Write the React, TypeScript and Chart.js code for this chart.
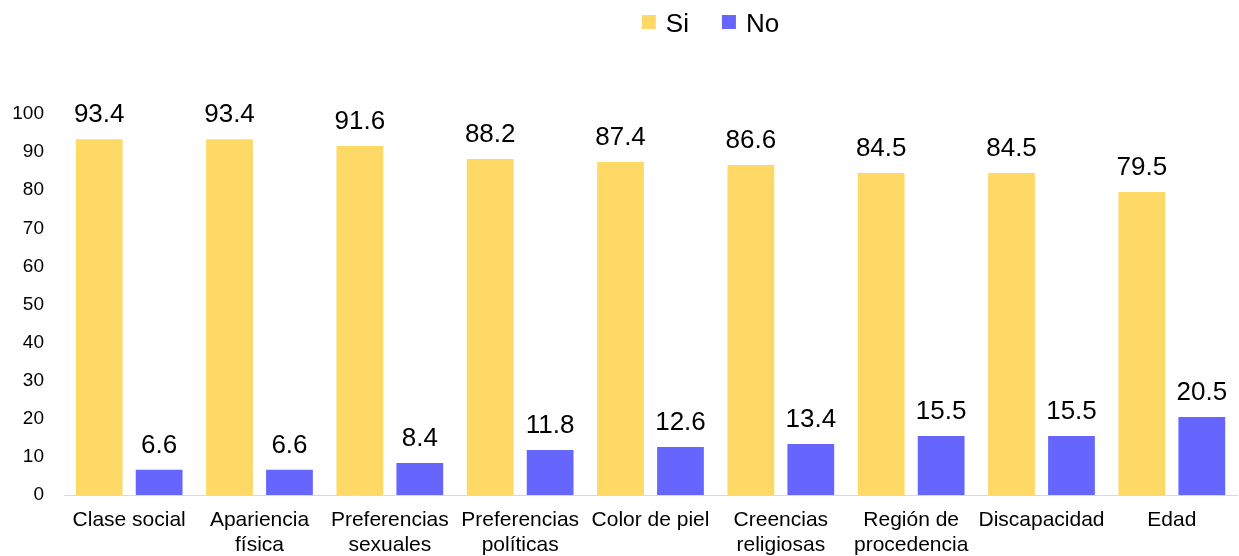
import { useEffect, useRef } from "react";
import { Chart, registerables } from "chart.js";

Chart.register(...registerables);

const FONT = "'Liberation Sans', Arial, Helvetica, sans-serif";

const categories: (string | string[])[] = [
  "Clase social",
  ["Apariencia", "física"],
  ["Preferencias", "sexuales"],
  ["Preferencias", "políticas"],
  "Color de piel",
  ["Creencias", "religiosas"],
  ["Región de", "procedencia"],
  "Discapacidad",
  "Edad",
];

const siValues = [93.4, 93.4, 91.6, 88.2, 87.4, 86.6, 84.5, 84.5, 79.5];
const noValues = [6.6, 6.6, 8.4, 11.8, 12.6, 13.4, 15.5, 15.5, 20.5];

const seriesNames = ["Si", "No"];
const seriesColors = ["#FFD966", "#6666FF"];

const yMin = 0;
const yMax = 100;
const yStep = 10;

// Writes each bar's value just above it.
const valueLabels = {
  id: "valueLabels",
  afterDatasetsDraw(chart: Chart) {
    const ctx = chart.ctx;
    ctx.save();
    ctx.font = `26px ${FONT}`;
    ctx.fillStyle = "#000000";
    ctx.textAlign = "center";
    ctx.textBaseline = "alphabetic";
    chart.data.datasets.forEach((ds, di) => {
      const meta = chart.getDatasetMeta(di);
      meta.data.forEach((el: any, i: number) => {
        const v = ds.data[i] as number;
        ctx.fillText(v.toFixed(1), el.x, el.y - 17);
      });
    });
    ctx.restore();
  },
};

// Legend row across the top: square swatch followed by series name.
const topLegend = {
  id: "topLegend",
  afterDraw(chart: Chart) {
    const ctx = chart.ctx;
    ctx.save();
    ctx.font = `26px ${FONT}`;
    ctx.textBaseline = "alphabetic";
    ctx.textAlign = "left";
    const box = 14;
    const boxGap = 10;
    const itemGap = 33;
    const widths = chart.data.datasets.map(
      (ds) => box + boxGap + ctx.measureText(String(ds.label)).width
    );
    const total = widths.reduce((a, b) => a + b, 0) + itemGap * (widths.length - 1);
    const center = (chart.chartArea.left + chart.chartArea.right) / 2 + 60;
    let x = center - total / 2;
    chart.data.datasets.forEach((ds, di) => {
      ctx.fillStyle = ds.backgroundColor as string;
      ctx.fillRect(x, 15, box, box);
      ctx.fillStyle = "#000000";
      ctx.fillText(String(ds.label), x + box + boxGap, 32);
      x += widths[di] + itemGap;
    });
    ctx.restore();
  },
};

export default function App() {
  const canvasRef = useRef<HTMLCanvasElement | null>(null);

  useEffect(() => {
    document.body.style.margin = "0";
    const canvas = canvasRef.current;
    if (!canvas) return;

    const chart = new Chart(canvas, {
      type: "bar",
      data: {
        labels: categories,
        datasets: [
          {
            label: seriesNames[0],
            data: siValues,
            backgroundColor: seriesColors[0],
            categoryPercentage: 0.92,
            barPercentage: 0.78,
          },
          {
            label: seriesNames[1],
            data: noValues,
            backgroundColor: seriesColors[1],
            categoryPercentage: 0.92,
            barPercentage: 0.78,
          },
        ],
      },
      options: {
        responsive: false,
        animation: false,
        devicePixelRatio: 1,
        layout: { padding: { top: 114, right: 2, left: 0, bottom: 0 } },
        plugins: {
          legend: { display: false },
          tooltip: { enabled: false },
        },
        scales: {
          x: {
            grid: { display: false, drawTicks: false },
            border: { display: true, color: "#D9D9D9", width: 1 },
            ticks: {
              autoSkip: false,
              maxRotation: 0,
              minRotation: 0,
              padding: 13,
              color: "#000000",
              font: { family: FONT, size: 21, lineHeight: 1.19 },
            },
            afterFit(scale: any) {
              scale.height = 61;
            },
          },
          y: {
            min: yMin,
            max: yMax,
            grid: { display: false, drawTicks: false },
            border: { display: false },
            ticks: {
              stepSize: yStep,
              padding: 20,
              color: "#000000",
              font: { family: FONT, size: 19 },
            },
            afterFit(scale: any) {
              scale.width = 64;
            },
          },
        },
      },
      plugins: [valueLabels, topLegend],
    });

    return () => chart.destroy();
  }, []);

  return (
    <div style={{ width: 1239, height: 556 }}>
      <canvas ref={canvasRef} width={1239} height={556} />
    </div>
  );
}
